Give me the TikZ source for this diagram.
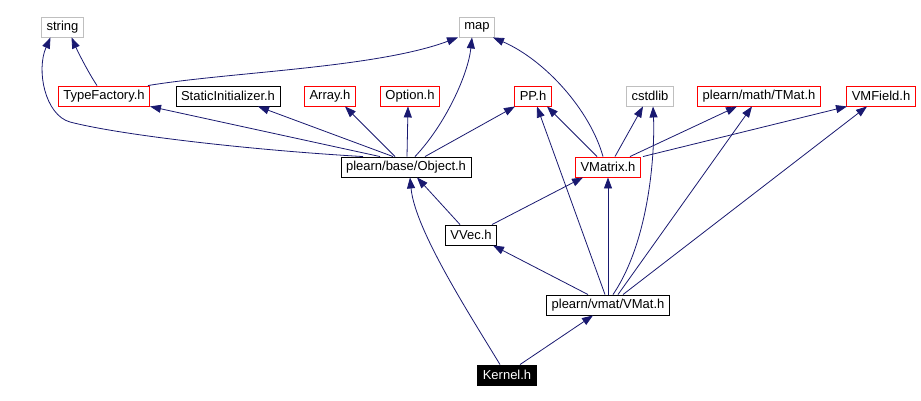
\documentclass[tikz,border=0pt]{standalone}
\usepackage{fontspec}
\setmainfont{Liberation Sans}
\usetikzlibrary{arrows.meta}
\definecolor{edgeblue}{HTML}{191970}
\definecolor{sysgray}{HTML}{BFBFBF}

\begin{document}
\begin{tikzpicture}[x=1pt, y=-1pt, >={Triangle[length=11pt,width=8pt]},
		file/.style={draw, line width=0.9pt, minimum height=20pt, inner xsep=5pt, inner ysep=0pt, font=\fontsize{13}{15}\selectfont},
		redfile/.style={file, draw=red},
		sysfile/.style={file, draw=sysgray},
		edge/.style={->, draw=edgeblue, line width=0.8pt}]
	\useasboundingbox (0,0) rectangle (921,401);
	
	% Các header hệ thống
	\node[sysfile] (str) at (62.5,27) {string};
	\node[sysfile] (map) at (477,27) {map};
	\node[sysfile] (cst) at (650,96) {cstdlib};
	
	% Hàng header thứ hai
	\node[redfile] (tf) at (104,96) {TypeFactory.h};
	\node[file] (si) at (228,96) {StaticInitializer.h};
	\node[redfile] (arr) at (330,96) {Array.h};
	\node[redfile] (opt) at (410,96) {Option.h};
	\node[redfile] (pp) at (533,96) {PP.h};
	\node[redfile] (tmat) at (759,96) {plearn/math/TMat.h};
	\node[redfile] (vmf) at (881,96) {VMField.h};
	
	% Các header ở giữa và dưới
	\node[file] (obj) at (406,167) {plearn/base/Object.h};
	\node[redfile] (vmx) at (608,167) {VMatrix.h};
	\node[file] (vvec) at (471,235) {VVec.h};
	\node[file] (vmat) at (608,305) {plearn/vmat/VMat.h};
	\node[file, fill=black, text=white] (kern) at (507,375) {Kernel.h};
	
	% Các cạnh thẳng
	\foreach \s/\sx/\t/\tx in {obj/-26/tf/46, obj/-13/si/30, obj/-11/arr/15, obj/1/opt/-2, obj/19/pp/-18,
			vmx/-11/pp/14, vmx/7/cst/-7, vmx/22/tmat/-22, vmx/35/vmf/-34,
			vvec/-11/obj/11, vvec/21/vmx/-25,
			vmat/-20/vvec/22, vmat/-3/pp/4, vmat/0/vmx/0, vmat/10/tmat/-7, vmat/15/vmf/-14,
			kern/13/vmat/-15} {
		\draw[edge] ([xshift=\sx pt]\s.north) -- ([xshift=\tx pt]\t.south);
	}
	
	% Các cạnh cong
	\draw[edge] ([xshift=-7pt]tf.north) .. controls (88,72) and (78,52) .. ([xshift=9pt]str.south);
	\draw[edge] ([xshift=44pt]tf.north) .. controls (230,72) and (376,68) .. ([xshift=-19pt]map.south);
	\draw[edge] ([xshift=-43pt]obj.north) .. controls (250,150) and (120,135) .. (70,122) .. controls (45,115) and (36,70) .. ([xshift=-12pt]str.south);
	\draw[edge] ([xshift=9pt]obj.north) .. controls (445,125) and (468,75) .. ([xshift=-5pt]map.south);
	\draw[edge] ([xshift=-5pt]vmx.north) .. controls (590,110) and (545,60) .. ([xshift=16pt]map.south);
	\draw[edge] ([xshift=5pt]vmat.north) .. controls (650,240) and (655,150) .. ([xshift=3pt]cst.south);
	\draw[edge] ([xshift=-7pt]kern.north) .. controls (470,315) and (415,230) .. ([xshift=4pt]obj.south);
\end{tikzpicture}
\end{document}
